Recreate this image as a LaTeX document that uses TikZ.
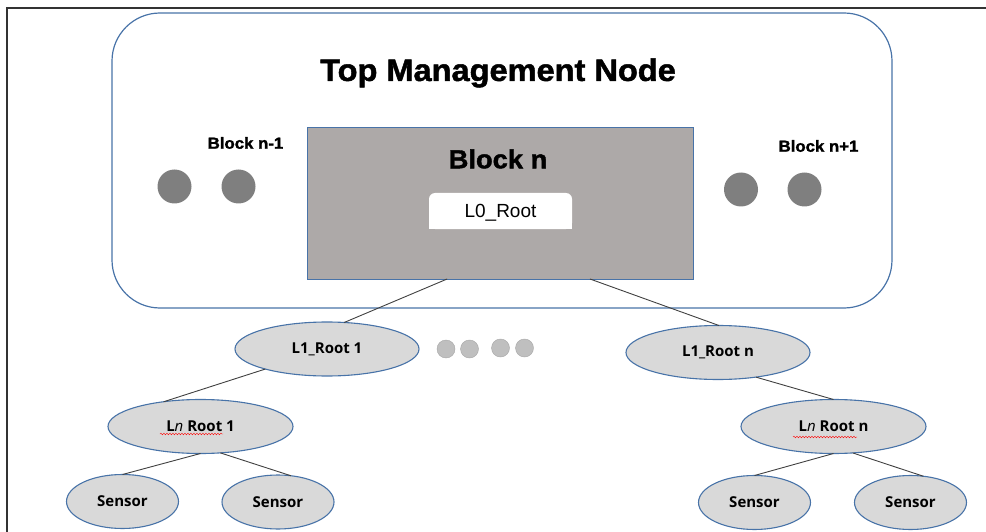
\documentclass[tikz,border=0pt]{standalone}
\usepackage{fontspec}
\setmainfont{Liberation Sans}
\newfontfamily\heavyfont{Liberation Sans}[UprightFont=* Bold, FakeBold=1.6, FakeStretch=1.05]
\newfontfamily\roundfont{Open Sans}[UprightFont=* Bold, ItalicFont=* Italic]
\usepackage{tikz}
\usetikzlibrary{shapes.geometric,decorations.pathmorphing}
\definecolor{outline}{RGB}{72,115,168}
\definecolor{blockgray}{RGB}{173,169,168}
\definecolor{leafgray}{RGB}{217,217,217}
\definecolor{darkdot}{RGB}{127,127,127}
\definecolor{lightdot}{RGB}{191,191,191}

\begin{document}
\begin{tikzpicture}[x=1pt,y=-1pt,
  leaf/.style={ellipse, draw=outline, line width=1.1pt, fill=leafgray,
    minimum width=184, minimum height=54, inner sep=0, outer sep=0,
    font=\roundfont\fontsize{15}{18}\selectfont},
  sensor/.style={leaf, minimum width=112},
  bigdot/.style={circle, fill=darkdot, minimum size=34, inner sep=0},
  smalldot/.style={circle, fill=lightdot, draw=black!35, minimum size=18, inner sep=0},
  link/.style={draw=black!75, line width=0.9pt}]
\useasboundingbox (0,0) rectangle (986,532);

% frame of the screenshot
\draw[line width=2, black!80] (7,532) -- (7,8) -- (986,8);

% top management node
\node[draw=outline, line width=1.2pt, rounded corners=48, minimum width=780,
  minimum height=295, inner sep=0] (topbox) at (502,160.5) {};
\node[font=\heavyfont\fontsize{31}{36}\selectfont] (title) at (498,73) {Top Management Node};

\node[font=\heavyfont\fontsize{16}{19}\selectfont] (prevlbl) at (245.5,143) {Block n-1};
\node[font=\heavyfont\fontsize{16}{19}\selectfont] (nextlbl) at (818.5,146) {Block n+1};
\node[bigdot] (p1) at (174.5,186.5) {};
\node[bigdot] (p2) at (238.5,186.5) {};
\node[bigdot] (q1) at (741,189.5) {};
\node[bigdot] (q2) at (804.5,189.5) {};

% block n
\node[draw=outline, line width=1pt, fill=blockgray, minimum width=386,
  minimum height=151, inner sep=0, outer sep=0] (blockn) at (500,203.5) {};
\node[font=\heavyfont\fontsize{26}{30}\selectfont] (blocklbl) at (498,159) {Block n};
\fill[white, rounded corners=6] (429,193) rectangle (572,229);
\fill[white] (429,211) rectangle (572,229);
\node[font=\fontsize{19}{22}\selectfont] (l0root) at (500.5,213) {L0\_Root};

% level 1
\node[leaf] (l1a) at (327,349) {L1\_Root 1};
\node[leaf] (l1n) at (718,352.5) {L1\_Root n};
\node[smalldot] (m1) at (446,349) {};
\node[smalldot] (m2) at (469.5,349) {};
\node[smalldot] (m3) at (500.5,348) {};
\node[smalldot] (m4) at (524.5,348) {};

% level n
\node[leaf, minimum width=185] (ln1) at (200.5,426.5) {L\textit{n} Root 1};
\node[leaf, minimum width=185] (lnn) at (833.5,426.5) {L\textit{n} Root n};
\draw[red, decorate, decoration={snake, amplitude=0.8, segment length=3}] (160,434) -- (223,434);
\draw[red, decorate, decoration={snake, amplitude=0.8, segment length=3}] (793,437) -- (857,437);

% sensors
\node[sensor] (s1) at (122.5,501.5) {Sensor};
\node[sensor] (s2) at (278,502) {Sensor};
\node[sensor] (s3) at (754.5,502.5) {Sensor};
\node[sensor] (s4) at (910.5,502.5) {Sensor};

% links
\draw[link] (blockn.-125) -- (l1a.57);
\draw[link] (blockn.-40) -- (l1n.88);
\draw[link] (l1a.-162) -- (ln1.146);
\draw[link] (l1n.-33) -- (lnn.north);
\draw[link] (ln1.south) -- (s1.north);
\draw[link] (ln1.-53) -- (s2.64);
\draw[link] (lnn.south) -- (s3.north);
\draw[link] (lnn.-54) -- (s4.64);
\end{tikzpicture}
\end{document}
